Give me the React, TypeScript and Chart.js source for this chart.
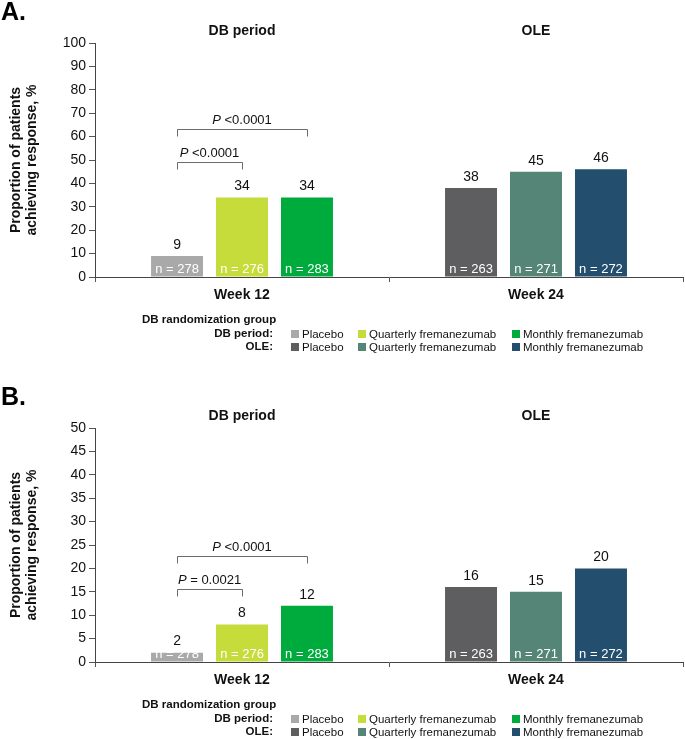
import React, { useEffect, useRef } from "react";
import { Chart, registerables } from "chart.js";

Chart.register(...registerables);

// ---------- data ----------
const weekLabels = ["Week 12", "Week 24"];
const periodTitles = ["DB period", "OLE"];
const groupNames = ["Placebo", "Quarterly fremanezumab", "Monthly fremanezumab"];
const dbColors = ["#a9a9a9", "#c5dc3b", "#00ab3d"];
const oleColors = ["#5e5d5f", "#548576", "#234e6d"];
const dbN = [278, 276, 283];
const oleN = [263, 271, 272];

const panelADb = [9, 34, 34];
const panelAOle = [38, 45, 46];
const panelAP = ["<0.0001", "<0.0001"]; // placebo vs quarterly, placebo vs monthly
const panelABracketLevels = [49, 63.2];

const panelBDb = [2, 8, 12];
const panelBOle = [16, 15, 20];
const panelBP = ["= 0.0021", "<0.0001"];
const panelBBracketLevels = [15.6, 22.6];

const FONT = '"Liberation Sans", Arial, Helvetica, sans-serif';
const AXIS_BOTTOM = 277;
const AXIS_TOP = 43;

type PanelProps = {
  letter: string;
  db: number[];
  ole: number[];
  pvals: string[];
  bracketLevels: number[];
  yMax: number;
  yStep: number;
  height: number;
  top: number;
};

function Panel(props: PanelProps) {
  const ref = useRef<HTMLCanvasElement | null>(null);
  useEffect(() => {
    const canvas = ref.current;
    if (!canvas) return;
    const { letter, db, ole, pvals, bracketLevels, yMax, yStep, height } = props;

    const overlay = {
      id: "overlay",
      afterDraw(chart: any) {
        const ctx = chart.ctx as CanvasRenderingContext2D;
        const area = chart.chartArea;
        const xs = chart.scales.x;
        const ys = chart.scales.y;
        ctx.save();

        // Panel letter
        ctx.fillStyle = "#000";
        ctx.font = `bold 25px ${FONT}`;
        ctx.textAlign = "left";
        ctx.textBaseline = "alphabetic";
        ctx.fillText(letter, 1, 20);

        // Period titles
        ctx.font = `bold 14px ${FONT}`;
        ctx.textAlign = "center";
        ctx.textBaseline = "middle";
        ctx.fillStyle = "#111";
        periodTitles.forEach((t, i) => ctx.fillText(t, xs.getPixelForValue(i), 31));

        // Bar labels
        for (let d = 0; d < 3; d++) {
          const meta = chart.getDatasetMeta(d);
          meta.data.forEach((bar: any, i: number) => {
            const val = chart.data.datasets[d].data[i];
            ctx.fillStyle = "#111";
            ctx.font = `14px ${FONT}`;
            ctx.textAlign = "center";
            ctx.textBaseline = "bottom";
            ctx.fillText(String(val), bar.x, bar.y - 4);
            ctx.fillStyle = "#fff";
            ctx.font = `13px ${FONT}`;
            ctx.textBaseline = "middle";
            const n = i === 0 ? dbN[d] : oleN[d];
            ctx.fillText(`n = ${n}`, bar.x, area.bottom - 8);
          });
        }

        // Brackets
        const x0 = chart.getDatasetMeta(0).data[0].x;
        pvals.forEach((p: string, k: number) => {
          const x1 = chart.getDatasetMeta(k + 1).data[0].x;
          const y = Math.round(ys.getPixelForValue(bracketLevels[k])) + 0.5;
          ctx.strokeStyle = "#6b6b6b";
          ctx.lineWidth = 1;
          ctx.beginPath();
          ctx.moveTo(Math.round(x0) + 0.5, y + 7);
          ctx.lineTo(Math.round(x0) + 0.5, y);
          ctx.lineTo(Math.round(x1) + 0.5, y);
          ctx.lineTo(Math.round(x1) + 0.5, y + 7);
          ctx.stroke();
          ctx.fillStyle = "#111";
          ctx.textAlign = "left";
          ctx.textBaseline = "middle";
          ctx.font = `italic 13px ${FONT}`;
          const wP = ctx.measureText("P").width;
          ctx.font = `13px ${FONT}`;
          const rest = " " + p;
          const wR = ctx.measureText(rest).width;
          const start = (x0 + x1) / 2 - (wP + wR) / 2;
          ctx.font = `italic 13px ${FONT}`;
          ctx.fillText("P", start, y - 9);
          ctx.font = `13px ${FONT}`;
          ctx.fillText(rest, start + wP, y - 9);
        });

        // Y axis title
        ctx.save();
        const cy = (area.top + area.bottom) / 2;
        ctx.translate(0, cy);
        ctx.rotate(-Math.PI / 2);
        ctx.font = `bold 14px ${FONT}`;
        ctx.fillStyle = "#111";
        ctx.textAlign = "center";
        ctx.textBaseline = "middle";
        ctx.fillText("Proportion of patients", 0, 16);
        ctx.fillText("achieving response, %", 0, 32);
        ctx.restore();

        // Legend
        ctx.fillStyle = "#111";
        ctx.font = `bold 11.5px ${FONT}`;
        ctx.textBaseline = "middle";
        ctx.textAlign = "left";
        ctx.fillText("DB randomization group", 142, 320);
        ctx.textAlign = "right";
        ctx.fillText("DB period:", 273, 334);
        ctx.fillText("OLE:", 273, 347);
        const sqX = [291, 358, 512];
        const rows = [
          { y: 334, colors: dbColors },
          { y: 347, colors: oleColors },
        ];
        ctx.font = `11.5px ${FONT}`;
        ctx.textAlign = "left";
        rows.forEach((r) => {
          groupNames.forEach((g, i) => {
            ctx.fillStyle = r.colors[i];
            ctx.fillRect(sqX[i], r.y - 4, 8, 8);
            ctx.fillStyle = "#111";
            ctx.fillText(g, sqX[i] + 11, r.y + 0.5);
          });
        });

        ctx.restore();
      },
    };

    const chart = new Chart(canvas, {
      type: "bar",
      data: {
        labels: weekLabels,
        datasets: groupNames.map((g, i) => ({
          label: g,
          data: [db[i], ole[i]],
          backgroundColor: [dbColors[i], oleColors[i]],
          borderWidth: 0,
          categoryPercentage: 0.663,
          barPercentage: 0.8,
        })),
      },
      options: {
        responsive: false,
        animation: false,
        events: [],
        layout: { padding: { top: AXIS_TOP, right: 2, left: 0, bottom: 0 } },
        plugins: {
          legend: { display: false },
          tooltip: { enabled: false },
          title: { display: false },
        },
        scales: {
          x: {
            afterFit: (s: any) => {
              s.height = height - AXIS_BOTTOM;
            },
            grid: {
              offset: true,
              drawOnChartArea: false,
              drawTicks: true,
              tickLength: 5,
              color: "#555",
            },
            border: { display: true, color: "#444", width: 1 },
            ticks: {
              color: "#111",
              font: { family: FONT, size: 14, weight: "bold" },
              padding: 5,
            },
          },
          y: {
            min: 0,
            max: yMax,
            afterFit: (s: any) => {
              s.width = 95;
            },
            grid: {
              drawOnChartArea: false,
              drawTicks: true,
              tickLength: 6,
              color: "#555",
            },
            border: { display: true, color: "#444", width: 1 },
            ticks: {
              stepSize: yStep,
              color: "#111",
              font: { family: FONT, size: 14 },
              padding: 3,
            },
          },
        },
      },
      plugins: [overlay],
    } as any);
    return () => chart.destroy();
  }, []);

  return (
    <canvas
      ref={ref}
      width={685}
      height={props.height}
      style={{ position: "absolute", left: 0, top: props.top, width: 685, height: props.height, display: "block" }}
    />
  );
}

export default function App() {
  return (
    <div style={{ position: "absolute", left: 0, top: 0, width: 685, height: 739, background: "#fff", overflow: "hidden" }}>
      <Panel
        letter="A."
        db={panelADb}
        ole={panelAOle}
        pvals={panelAP}
        bracketLevels={panelABracketLevels}
        yMax={100}
        yStep={10}
        height={385}
        top={0}
      />
      <Panel
        letter="B."
        db={panelBDb}
        ole={panelBOle}
        pvals={panelBP}
        bracketLevels={panelBBracketLevels}
        yMax={50}
        yStep={5}
        height={354}
        top={385}
      />
    </div>
  );
}
